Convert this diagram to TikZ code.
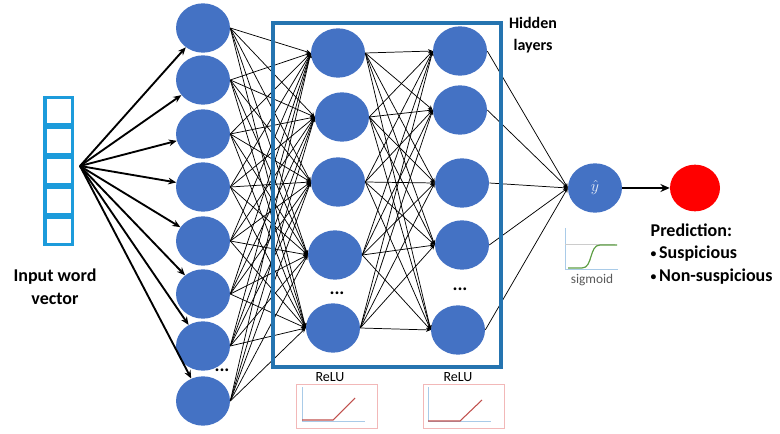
\documentclass[tikz,border=0pt]{standalone}
\usepackage{fontspec}
\setmainfont{Carlito}
\usetikzlibrary{shapes.geometric,arrows.meta}

\definecolor{nodeblue}{HTML}{4472C4}
\definecolor{boxblue}{HTML}{2574B0}
\definecolor{vecblue}{HTML}{1C9BDB}
\definecolor{axisblue}{HTML}{A9CBE8}
\definecolor{relured}{HTML}{C0504D}
\definecolor{framepink}{HTML}{F2B8B8}
\definecolor{siggreen}{HTML}{5E9E45}

\newcommand{\predbullet}{\raisebox{0.15ex}{\scalebox{0.65}{\textbullet}}\hspace{2pt}}

\tikzset{
  neuron/.style={ellipse, fill=nodeblue, minimum width=40.5pt, minimum height=37pt, inner sep=0pt},
  cell/.style={draw=vecblue, line width=2.6pt, fill=white, minimum width=20.6pt, minimum height=19.9pt, inner sep=0pt},
  link/.style={black, line width=0.55pt, -{Stealth[length=3.5pt,width=3pt]}},
  inarrow/.style={black, line width=1.4pt, -{Stealth[length=6pt,width=5pt]}},
  dots/.style={font=\fontsize{14}{14}\selectfont\bfseries},
  plotaxis/.style={axisblue, line width=0.6pt},
  bigtext/.style={font=\fontsize{13.5}{16.9}\selectfont\bfseries, align=left},
  smalltext/.style={font=\fontsize{10.5}{12}\selectfont},
}

\begin{document}
\begin{tikzpicture}[x=0.75pt,y=-0.75pt]
  \useasboundingbox (0,0) rectangle (780,434);

  % input word vector
  \foreach \k in {0,...,4}
    \node[cell] (v\k) at (58.5,111+30*\k) {};
  \coordinate (src) at (80,166);
  \node[bigtext, align=center] (inlabel) at (55,287) {Input word\\vector};

  % layers
  \foreach \y [count=\i] in {28,80,134,187,241,294,346,401}
    \node[neuron] (in\i) at (203,\y) {};
  \foreach \x/\y [count=\i] in {338/53,342/117,338/182,335/255,333/328}
    \node[neuron] (ha\i) at (\x,\y) {};
  \foreach \x/\y [count=\i] in {460/51,460/110,462/183,462/245,458/330}
    \node[neuron] (hb\i) at (\x,\y) {};
  \node[neuron] (yhat) at (595,188) {\color{white!85!nodeblue}\large$\hat{y}$};
  \node[ellipse, fill=red, minimum width=37.5pt, minimum height=35pt] (pred) at (695,188) {};

  \node[dots] (dotsa) at (222,370) {...};
  \node[dots] (dotsb) at (337,293) {...};
  \node[dots] (dotsc) at (460,289) {...};

  % connections
  \foreach \i in {1,...,8}
    \draw[inarrow] (src) -- (in\i);
  \foreach \i in {1,...,8}
    \foreach \j in {1,...,5}
      \draw[link] (in\i.east) -- (ha\j.west);
  \foreach \i in {1,...,5}
    \foreach \j in {1,...,5}
      \draw[link] (ha\i.east) -- (hb\j.west);
  \foreach \i in {1,...,5}
    \draw[link] (hb\i.east) -- (yhat.west);
  \draw[black, line width=1.4pt, -{Stealth[length=7pt,width=6pt]}] (yhat) -- (pred);

  % hidden box
  \draw[boxblue, line width=2.3pt] (273,23) rectangle (501,367);
  \node[bigtext, align=center, font=\fontsize{12}{16.5}\selectfont\bfseries] (hidlabel) at (533,35) {Hidden\\layers};

  \node[bigtext, anchor=west] (predlabel) at (646,254)
    {Prediction:\\\predbullet Suspicious\\\predbullet Non-suspicious};

  % relu plots
  \node[smalltext] (relua) at (330,377) {ReLU};
  \draw[framepink, line width=0.5pt] (296,384) rectangle (377,428);
  \draw[plotaxis] (302,387) -- (302,421) -- (365,421);
  \draw[relured, line width=0.8pt] (302,420) -- (333,420) -- (355,398);

  \node[smalltext] (relub) at (458,377) {ReLU};
  \draw[framepink, line width=0.5pt] (423,384) rectangle (504,428);
  \draw[plotaxis] (428,387) -- (428,421) -- (491,421);
  \draw[relured, line width=0.8pt] (428,421) -- (460,421) -- (482,400);

  % sigmoid plot
  \draw[plotaxis] (565,228) -- (565,269) -- (618,269);
  \draw[gray!40, line width=0.4pt] (565,244) -- (615,244);
  \draw[siggreen, line width=0.9pt] (568,268) -- (582,268) .. controls (593,268) and (589,245) .. (600,245) -- (617,245);
  \node[smalltext, text=black!65, font=\fontsize{10}{12}\selectfont] (siglabel) at (592,280) {sigmoid};
\end{tikzpicture}
\end{document}
